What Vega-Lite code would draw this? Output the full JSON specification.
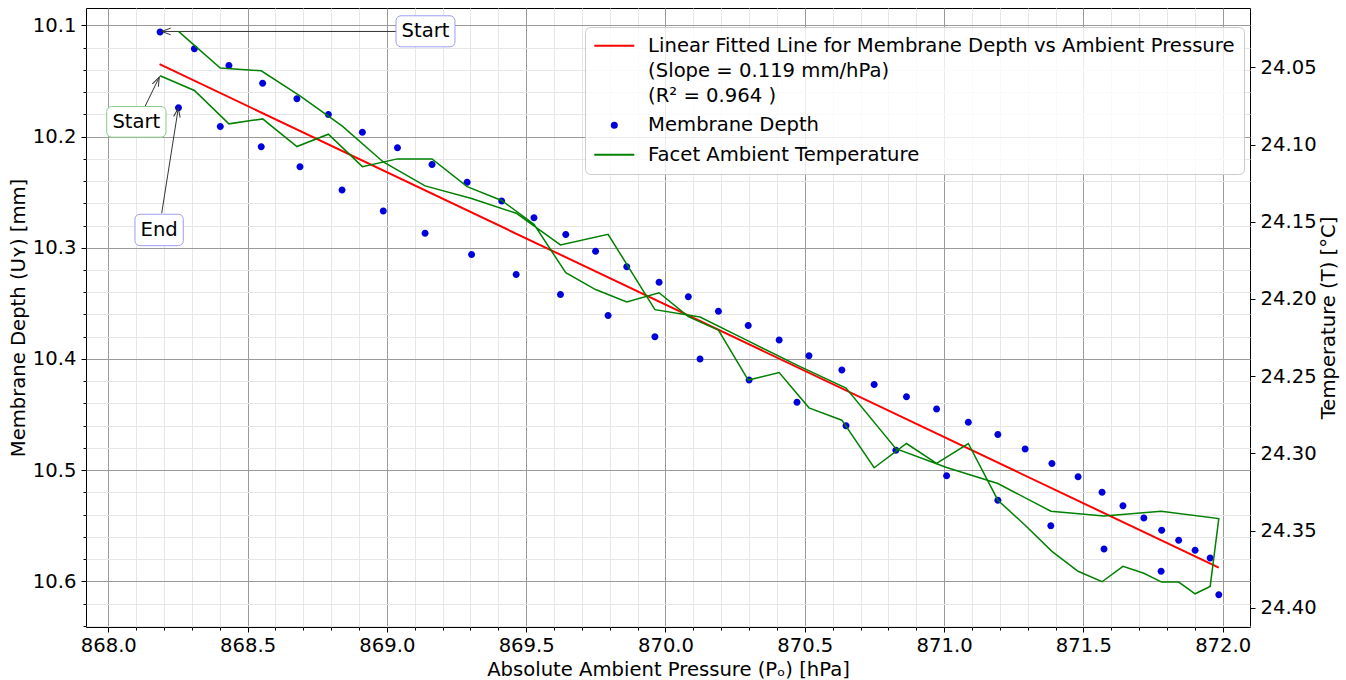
{
  "$schema": "https://vega.github.io/schema/vega-lite/v6.json",
  "width": 1164,
  "height": 619,
  "autosize": {"type": "none"},
  "padding": {"left": 86, "top": 8, "right": 96, "bottom": 53},
  "background": "#ffffff",
  "config": {
    "font": "DejaVu Sans",
    "view": {"stroke": "#000000", "strokeWidth": 1},
    "style": {"guide-label": {"lineHeight": 25}},
    "axis": {
      "labelFont": "DejaVu Sans", "labelFontSize": 19.6, "labelColor": "#000000",
      "titleFont": "DejaVu Sans", "titleFontSize": 19.6, "titleFontWeight": "normal", "titleColor": "#000000",
      "tickColor": "#000000", "domainColor": "#000000", "labelFlush": false, "labelOverlap": false, "tickWidth": 1
    }
  },
  "datasets": {
    "obs": [
      {"i":1,"p":868.186,"d":10.106,"t":24.0555},
      {"i":2,"p":868.309,"d":10.121,"t":24.065},
      {"i":3,"p":868.433,"d":10.136,"t":24.0866},
      {"i":4,"p":868.554,"d":10.152,"t":24.0834},
      {"i":5,"p":868.677,"d":10.166,"t":24.1013},
      {"i":6,"p":868.79,"d":10.18,"t":24.0933},
      {"i":7,"p":868.912,"d":10.196,"t":24.1143},
      {"i":8,"p":869.038,"d":10.21,"t":24.1093},
      {"i":9,"p":869.162,"d":10.225,"t":24.1093},
      {"i":10,"p":869.288,"d":10.241,"t":24.1273},
      {"i":11,"p":869.412,"d":10.258,"t":24.1362},
      {"i":12,"p":869.528,"d":10.273,"t":24.1516},
      {"i":13,"p":869.642,"d":10.288,"t":24.183},
      {"i":14,"p":869.749,"d":10.303,"t":24.1939},
      {"i":15,"p":869.861,"d":10.317,"t":24.202},
      {"i":16,"p":869.977,"d":10.331,"t":24.196},
      {"i":17,"p":870.082,"d":10.344,"t":24.2114},
      {"i":18,"p":870.19,"d":10.357,"t":24.2201},
      {"i":19,"p":870.297,"d":10.37,"t":24.2525},
      {"i":20,"p":870.408,"d":10.383,"t":24.2477},
      {"i":21,"p":870.515,"d":10.397,"t":24.2705},
      {"i":22,"p":870.633,"d":10.41,"t":24.2785},
      {"i":23,"p":870.749,"d":10.423,"t":24.3093},
      {"i":24,"p":870.865,"d":10.434,"t":24.2936},
      {"i":25,"p":870.973,"d":10.445,"t":24.3065},
      {"i":26,"p":871.087,"d":10.457,"t":24.2936},
      {"i":27,"p":871.193,"d":10.468,"t":24.3303},
      {"i":28,"p":871.291,"d":10.481,"t":24.3465},
      {"i":29,"p":871.387,"d":10.494,"t":24.3634},
      {"i":30,"p":871.481,"d":10.506,"t":24.3763},
      {"i":31,"p":871.567,"d":10.52,"t":24.3831},
      {"i":32,"p":871.642,"d":10.532,"t":24.3731},
      {"i":33,"p":871.717,"d":10.543,"t":24.3776},
      {"i":34,"p":871.781,"d":10.554,"t":24.3833},
      {"i":35,"p":871.842,"d":10.563,"t":24.3833},
      {"i":36,"p":871.901,"d":10.572,"t":24.3909},
      {"i":37,"p":871.955,"d":10.579,"t":24.3861},
      {"i":38,"p":871.986,"d":10.612,"t":24.3422},
      {"i":39,"p":871.779,"d":10.591,"t":24.3374},
      {"i":40,"p":871.574,"d":10.571,"t":24.3405},
      {"i":41,"p":871.383,"d":10.55,"t":24.3374},
      {"i":42,"p":871.193,"d":10.527,"t":24.3195},
      {"i":43,"p":871.009,"d":10.505,"t":24.3091},
      {"i":44,"p":870.827,"d":10.482,"t":24.2969},
      {"i":45,"p":870.648,"d":10.46,"t":24.2577},
      {"i":46,"p":870.472,"d":10.439,"t":24.2428},
      {"i":47,"p":870.3,"d":10.419,"t":24.2275},
      {"i":48,"p":870.124,"d":10.4,"t":24.2117},
      {"i":49,"p":869.962,"d":10.38,"t":24.2069},
      {"i":50,"p":869.794,"d":10.361,"t":24.1581},
      {"i":51,"p":869.623,"d":10.342,"t":24.165},
      {"i":52,"p":869.464,"d":10.324,"t":24.1445},
      {"i":53,"p":869.304,"d":10.306,"t":24.1349},
      {"i":54,"p":869.137,"d":10.287,"t":24.1268},
      {"i":55,"p":868.987,"d":10.267,"t":24.1113},
      {"i":56,"p":868.839,"d":10.248,"t":24.0879},
      {"i":57,"p":868.688,"d":10.227,"t":24.0685},
      {"i":58,"p":868.549,"d":10.209,"t":24.0523},
      {"i":59,"p":868.402,"d":10.191,"t":24.0505},
      {"i":60,"p":868.252,"d":10.174,"t":24.0267}
    ],
    "fit": [
      {"p":868.184,"d":10.1348},
      {"p":871.986,"d":10.5877}
    ],
    "notes": [
      {"id":"a1","label":"Start","kind":"depth","tx":869.1385,"ty":10.1052,"bx1":869.0327,"bx2":869.2444,"by1":10.0913,"by2":10.1192,"fx":869.0327,"fy":10.1054,"hx":868.1917,"hy":10.1054},
      {"id":"a2","label":"Start","kind":"temp","tx":868.1007,"ty":10.1867,"bx1":867.9943,"bx2":868.2071,"by1":10.1729,"by2":10.2005,"fx":868.1317,"fy":10.1729,"hx":868.1831,"hy":10.1465},
      {"id":"a3","label":"End","kind":"depth","tx":868.1827,"ty":10.284,"bx1":868.0958,"bx2":868.2692,"by1":10.2698,"by2":10.2981,"fx":868.1917,"fy":10.2689,"hx":868.2513,"hy":10.1744}
    ]
  },
  "resolve": {"scale": {"x": "independent", "y": "independent"}, "axis": {"x": "independent", "y": "independent"}},
  "layer": [
    {
      "data": {"name": "obs"},
      "mark": {"type": "point", "opacity": 0},
      "encoding": {
        "x": {"field": "p", "type": "quantitative",
          "scale": {"domain": [867.92, 872.098], "nice": false, "zero": false},
          "axis": {"orient": "bottom", "values": [868.1,868.2,868.3,868.4,868.6,868.7,868.8,868.9,869.1,869.2,869.3,869.4,869.6,869.7,869.8,869.9,870.1,870.2,870.3,870.4,870.6,870.7,870.8,870.9,871.1,871.2,871.3,871.4,871.6,871.7,871.8,871.9],
            "grid": true, "gridColor": "#e6e6e6", "gridWidth": 1, "labels": false, "ticks": true, "tickSize": 3, "domain": false, "title": null, "zindex": 0}},
        "y": {"field": "d", "type": "quantitative",
          "scale": {"domain": [10.0843, 10.6411], "reverse": true, "nice": false, "zero": false},
          "axis": {"orient": "left", "values": [10.12,10.14,10.16,10.18,10.22,10.24,10.26,10.28,10.32,10.34,10.36,10.38,10.42,10.44,10.46,10.48,10.52,10.54,10.56,10.58,10.62,10.64],
            "grid": true, "gridColor": "#e6e6e6", "gridWidth": 1, "labels": false, "ticks": true, "tickSize": 3, "domain": false, "title": null, "zindex": 0}}
      }
    },
    {
      "layer": [
        {
          "data": {"name": "fit"},
          "mark": {"type": "line", "strokeWidth": 2},
          "encoding": {
            "x": {"field": "p", "type": "quantitative",
              "scale": {"domain": [867.92, 872.098], "nice": false, "zero": false},
              "axis": {"orient": "bottom", "values": [868, 868.5, 869, 869.5, 870, 870.5, 871, 871.5, 872], "format": ".1f",
                "grid": true, "gridColor": "#9a9a9a", "gridWidth": 1, "tickSize": 5, "labelPadding": 4, "domain": false,
                "title": "Absolute Ambient Pressure (Pₒ) [hPa]", "titlePadding": 6, "zindex": 0}},
            "y": {"field": "d", "type": "quantitative",
              "scale": {"domain": [10.0843, 10.6411], "reverse": true, "nice": false, "zero": false},
              "axis": {"orient": "left", "values": [10.1, 10.2, 10.3, 10.4, 10.5, 10.6], "format": ".1f",
                "grid": true, "gridColor": "#9a9a9a", "gridWidth": 1, "tickSize": 5, "labelPadding": 5, "domain": false,
                "title": "Membrane Depth (Uʏ) [mm]", "titlePadding": 4, "zindex": 0}},
            "color": {"datum": "Linear Fitted Line for Membrane Depth vs Ambient Pressure", "type": "nominal",
              "scale": {"domain": ["Linear Fitted Line for Membrane Depth vs Ambient Pressure", "Membrane Depth", "Facet Ambient Temperature"],
                        "range": ["#ff0000", "#0000dd", "#008000"]},
              "legend": {
                "title": null, "orient": "none", "legendX": 499, "legendY": 19, "direction": "vertical",
                "padding": 9, "fillColor": "rgba(255,255,255,0.8)", "strokeColor": "#cccccc", "cornerRadius": 5,
                "labelFont": "DejaVu Sans", "labelFontSize": 19.6, "labelColor": "#000000", "labelLimit": 800,
                "labelOffset": 24, "symbolOffset": 10.5, "rowPadding": 8.5,
                "symbolType": "M-4,0L4,0", "symbolSize": 100, "symbolStrokeWidth": 2, "zindex": 1,
                "labelExpr": "datum.value == 'Linear Fitted Line for Membrane Depth vs Ambient Pressure' ? ['Linear Fitted Line for Membrane Depth vs Ambient Pressure', '(Slope = 0.119 mm/hPa)', '(R² = 0.964 )'] : datum.label"
              }}
          }
        },
        {
          "data": {"name": "obs"},
          "mark": {"type": "point", "filled": true, "size": 196, "opacity": 1, "strokeWidth": 0},
          "encoding": {
            "x": {"field": "p", "type": "quantitative", "scale": {"domain": [867.92, 872.098], "nice": false, "zero": false}},
            "y": {"field": "d", "type": "quantitative", "scale": {"domain": [10.0843, 10.6411], "reverse": true, "nice": false, "zero": false}},
            "color": {"datum": "Membrane Depth", "type": "nominal"},
            "shape": {"datum": "Membrane Depth", "type": "nominal",
              "scale": {"domain": ["Linear Fitted Line for Membrane Depth vs Ambient Pressure", "Membrane Depth", "Facet Ambient Temperature"],
                        "range": ["M-4,0L4,0", "M-0.5,0A0.5,0.5,0,1,1,0.5,0A0.5,0.5,0,1,1,-0.5,0Z", "M-4,0L4,0"]}}
          }
        },
        {
          "data": {"name": "notes"},
          "mark": {"type": "rule", "color": "#333333", "strokeWidth": 1},
          "encoding": {
            "x": {"field": "fx", "type": "quantitative", "scale": {"domain": [867.92, 872.098], "nice": false, "zero": false}},
            "x2": {"field": "hx"},
            "y": {"field": "fy", "type": "quantitative", "scale": {"domain": [10.0843, 10.6411], "reverse": true, "nice": false, "zero": false}},
            "y2": {"field": "hy"}
          }
        },
        {
          "data": {"name": "notes"},
          "mark": {"type": "rect", "fill": "#ffffff", "cornerRadius": 5, "strokeWidth": 1},
          "encoding": {
            "x": {"field": "bx1", "type": "quantitative", "scale": {"domain": [867.92, 872.098], "nice": false, "zero": false}},
            "x2": {"field": "bx2"},
            "y": {"field": "by1", "type": "quantitative", "scale": {"domain": [10.0843, 10.6411], "reverse": true, "nice": false, "zero": false}},
            "y2": {"field": "by2"},
            "stroke": {"field": "kind", "type": "nominal", "scale": {"domain": ["depth", "temp"], "range": ["#9d9df2", "#8cc98c"]}, "legend": null}
          }
        },
        {
          "data": {"name": "notes"},
          "mark": {"type": "text", "font": "DejaVu Sans", "fontSize": 19.6, "color": "#000000", "align": "center", "baseline": "middle"},
          "encoding": {
            "x": {"field": "tx", "type": "quantitative", "scale": {"domain": [867.92, 872.098], "nice": false, "zero": false}},
            "y": {"field": "ty", "type": "quantitative", "scale": {"domain": [10.0843, 10.6411], "reverse": true, "nice": false, "zero": false}},
            "text": {"field": "label"}
          }
        },
        {
          "data": {"name": "notes"},
          "transform": [{"filter": "datum.id == 'a1'"}],
          "mark": {"type": "point", "shape": "M-1,-0.37L0,0L-1,0.37", "size": 324, "filled": false, "strokeWidth": 1, "color": "#333333", "opacity": 1, "angle": 180},
          "encoding": {
            "x": {"field": "hx", "type": "quantitative", "scale": {"domain": [867.92, 872.098], "nice": false, "zero": false}},
            "y": {"field": "hy", "type": "quantitative", "scale": {"domain": [10.0843, 10.6411], "reverse": true, "nice": false, "zero": false}}
          }
        },
        {
          "data": {"name": "notes"},
          "transform": [{"filter": "datum.id == 'a2'"}],
          "mark": {"type": "point", "shape": "M-1,-0.37L0,0L-1,0.37", "size": 324, "filled": false, "strokeWidth": 1, "color": "#333333", "opacity": 1, "angle": 296},
          "encoding": {
            "x": {"field": "hx", "type": "quantitative", "scale": {"domain": [867.92, 872.098], "nice": false, "zero": false}},
            "y": {"field": "hy", "type": "quantitative", "scale": {"domain": [10.0843, 10.6411], "reverse": true, "nice": false, "zero": false}}
          }
        },
        {
          "data": {"name": "notes"},
          "transform": [{"filter": "datum.id == 'a3'"}],
          "mark": {"type": "point", "shape": "M-1,-0.37L0,0L-1,0.37", "size": 324, "filled": false, "strokeWidth": 1, "color": "#333333", "opacity": 1, "angle": 279},
          "encoding": {
            "x": {"field": "hx", "type": "quantitative", "scale": {"domain": [867.92, 872.098], "nice": false, "zero": false}},
            "y": {"field": "hy", "type": "quantitative", "scale": {"domain": [10.0843, 10.6411], "reverse": true, "nice": false, "zero": false}}
          }
        }
      ]
    },
    {
      "data": {"name": "obs"},
      "mark": {"type": "line", "strokeWidth": 1.5},
      "encoding": {
        "x": {"field": "p", "type": "quantitative", "scale": {"domain": [867.92, 872.098], "nice": false, "zero": false}, "axis": null},
        "y": {"field": "t", "type": "quantitative",
          "scale": {"domain": [24.0116, 24.4124], "reverse": true, "nice": false, "zero": false},
          "axis": {"orient": "right", "values": [24.05, 24.1, 24.15, 24.2, 24.25, 24.3, 24.35, 24.4], "format": ".2f",
            "grid": false, "tickSize": 5, "labelPadding": 5, "domain": false,
            "title": "Temperature (T) [°C]", "titleAngle": 270, "titleBaseline": "top", "titlePadding": 3}},
        "order": {"field": "i", "type": "quantitative"},
        "color": {"datum": "Facet Ambient Temperature", "type": "nominal"}
      }
    }
  ]
}
